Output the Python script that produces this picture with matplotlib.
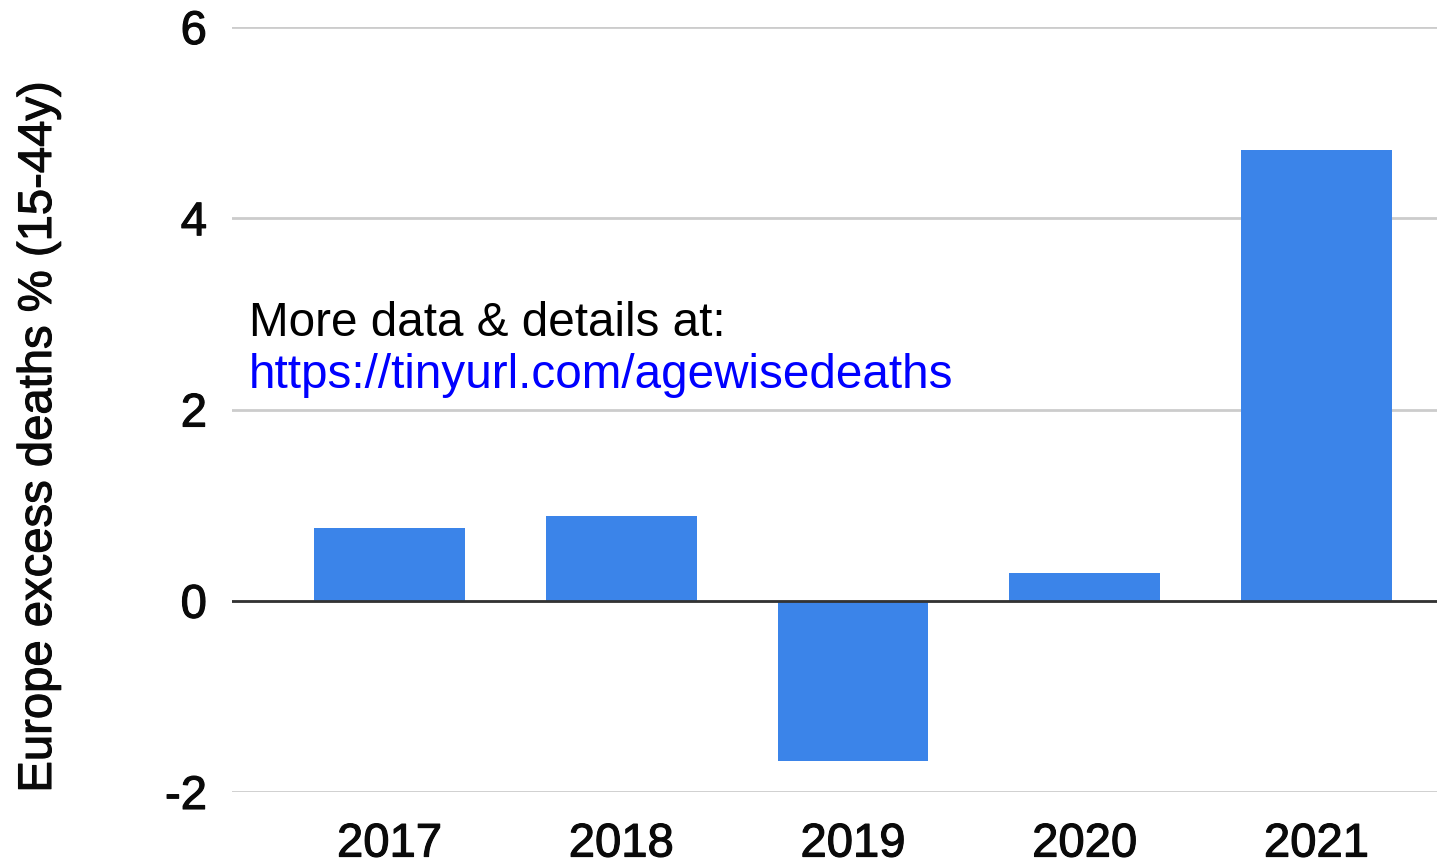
import matplotlib
matplotlib.use("Agg")
import matplotlib.pyplot as plt
import matplotlib.patheffects as pe

years = ["2017", "2018", "2019", "2020", "2021"]
excess = [0.76, 0.89, -1.68, 0.29, 4.71]
yticks = [-2, 0, 2, 4, 6]
ylabel = "Europe excess deaths % (15-44y)"
note1 = "More data & details at:"
note2 = "https://tinyurl.com/agewisedeaths"

plt.rcParams['font.family'] = ['Liberation Sans', 'DejaVu Sans']

W, H = 1437, 864
fig = plt.figure(figsize=(W / 100, H / 100), dpi=100)
ax = fig.add_axes([232 / W, 1 - 792 / H, 1 - 232 / W, (792 - 27) / H])

thick = [pe.withStroke(linewidth=0.8, foreground='#0a0a0a')]

x = list(range(len(years)))
ax.bar(x, excess, width=0.65, color="#3b84e9", zorder=3)
ax.set_xlim(-0.68, 4.52)
ax.set_ylim(-2, 6)
ax.set_yticks(yticks)
ax.set_yticklabels([str(t) for t in yticks], fontsize=34)
ax.set_xticks(x)
ax.set_xticklabels(years, fontsize=34)
ax.tick_params(axis='both', length=0, colors='#0a0a0a')
ax.tick_params(axis='y', pad=18)
ax.tick_params(axis='x', pad=22)
for lbl in ax.get_xticklabels() + ax.get_yticklabels():
    lbl.set_path_effects(thick)
for s in ax.spines.values():
    s.set_visible(False)
ax.grid(axis='y', color='#cccccc', linewidth=2, zorder=0)
ax.axhline(0, color='#333333', linewidth=2, zorder=4)
ax.set_ylabel(ylabel, fontsize=34, color='#0a0a0a', path_effects=thick)
ax.yaxis.set_label_coords(-(232 - 61) / (W - 232), (792 - 437) / (792 - 27))

fig.text(249 / W, 1 - 336 / H, note1, fontsize=34.3, color='black', va='baseline')
fig.text(249 / W, 1 - 388 / H, note2, fontsize=34.3, color='#0000ff', va='baseline')

fig.savefig("out.png", dpi=100)
